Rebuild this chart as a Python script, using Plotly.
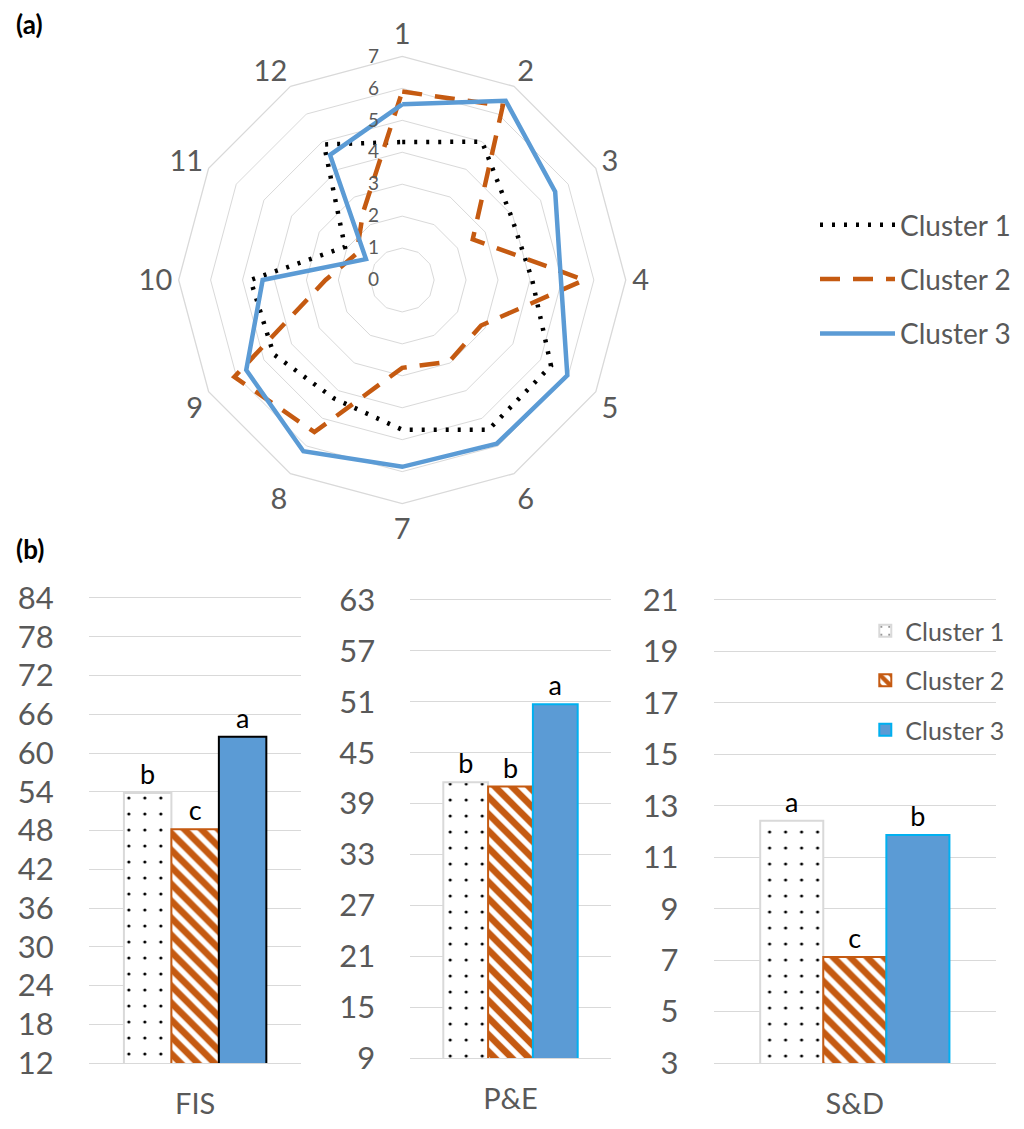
import plotly.graph_objects as go

# ---------------- data ----------------
radar_axes = ["1", "2", "3", "4", "5", "6", "7", "8", "9", "10", "11", "12"]
cluster1_radar = [4.32, 5.0, 3.95, 4.07, 5.38, 5.41, 4.69, 4.28, 4.65, 4.75, 2.07, 4.9]
cluster2_radar = [5.9, 6.3, 2.55, 5.7, 2.85, 2.95, 2.75, 5.5, 6.07, 2.4, 1.65, 2.45]
cluster3_radar = [5.5, 6.48, 5.53, 4.97, 5.97, 5.92, 5.85, 6.19, 5.64, 4.37, 1.31, 4.52]

bar_groups = ["FIS", "P&E", "S&D"]
cluster1_bar = [53.8, 41.5, 12.42]
cluster2_bar = [48.2, 41.0, 7.12]
cluster3_bar = [62.5, 50.7, 11.86]
letters1 = ["b", "b", "a"]
letters2 = ["c", "b", "c"]
letters3 = ["a", "a", "b"]

y_ranges = [(12, 84, 6), (9, 63, 6), (3, 21, 2)]

series_names = ["Cluster 1", "Cluster 2", "Cluster 3"]

# ---------------- styles ----------------
GREY = "#595959"
GRID = "#d9d9d9"
ORANGE = "#c55a11"
BLUE = "#5b9bd5"
FONT = "Lato"
W, H = 1008, 1113   # page body has an 8px margin


def px(x):
    return (x - 8) / W


def py(y):
    return 1 - (y - 8) / H


fig = go.Figure()

# ---------------- radar ----------------
def closed(v):
    return v + [v[0]]

theta = closed(radar_axes)
fig.add_trace(go.Scatterpolar(
    r=closed(cluster1_radar), theta=theta, mode="lines", name=series_names[0],
    line=dict(color="black", width=4.5, dash="3px,9px"), legend="legend", legendgroup="r1"))
fig.add_trace(go.Scatterpolar(
    r=closed(cluster2_radar), theta=theta, mode="lines", name=series_names[1],
    line=dict(color=ORANGE, width=4.5, dash="20px,13px"), legend="legend", legendgroup="r2"))
fig.add_trace(go.Scatterpolar(
    r=closed(cluster3_radar), theta=theta, mode="lines", name=series_names[2],
    line=dict(color=BLUE, width=4.5), legend="legend", legendgroup="r3"))

cx, cy, half = 403, 280, 224
fig.update_layout(
    polar=dict(
        domain=dict(x=[px(cx - half), px(cx + half)], y=[py(cy + half), py(cy - half)]),
        gridshape="linear",
        bgcolor="white",
        radialaxis=dict(range=[0, 7], dtick=1, tick0=0, showline=False, gridcolor=GRID,
                        gridwidth=1.3, angle=90, side="counterclockwise", tickangle=90,
                        ticks="outside", ticklen=16, tickcolor="rgba(0,0,0,0)",
                        tickfont=dict(size=19, color=GREY, family=FONT)),
        angularaxis=dict(rotation=90, direction="clockwise", showgrid=False,
                         showline=True, linecolor=GRID, linewidth=1.3, ticks="",
                         tickfont=dict(size=29, color=GREY, family=FONT)),
    )
)

# ---------------- bars ----------------
xaxes = ["x", "x2", "x3"]
yaxes = ["y", "y2", "y3"]
x_domains = [[px(89), px(302)], [px(411), px(612)], [px(715), px(998)]]
y_domains = [[py(1063), py(598)], [py(1058), py(600)], [py(1063), py(600)]]
c3_border = ["black", "#00b0f0", "#00b0f0"]

for i, grp in enumerate(bar_groups):
    show = (i == 2)
    fig.add_trace(go.Bar(
        x=[grp], y=[cluster1_bar[i]], name=series_names[0], xaxis=xaxes[i], yaxis=yaxes[i],
        text=[letters1[i]], textposition="outside", cliponaxis=False,
        textfont=dict(size=27, color="black", family=FONT),
        marker=dict(color="white", line=dict(color=GRID, width=2),
                    pattern=dict(shape=".", fgcolor="black", bgcolor="white", fgopacity=1,
                                 size=16, solidity=0.03)),
        showlegend=show, legend="legend2", legendgroup="b1"))
    fig.add_trace(go.Bar(
        x=[grp], y=[cluster2_bar[i]], name=series_names[1], xaxis=xaxes[i], yaxis=yaxes[i],
        text=[letters2[i]], textposition="outside", cliponaxis=False,
        textfont=dict(size=27, color="black", family=FONT),
        marker=dict(color="white", line=dict(color=ORANGE, width=2),
                    pattern=dict(shape="\\", fgcolor=ORANGE, bgcolor="white", fgopacity=1,
                                 size=12, solidity=0.55)),
        showlegend=show, legend="legend2", legendgroup="b2"))
    fig.add_trace(go.Bar(
        x=[grp], y=[cluster3_bar[i]], name=series_names[2], xaxis=xaxes[i], yaxis=yaxes[i],
        text=[letters3[i]], textposition="outside", cliponaxis=False,
        textfont=dict(size=27, color="black", family=FONT),
        marker=dict(color=BLUE, line=dict(color=c3_border[i], width=2)),
        showlegend=show, legend="legend2", legendgroup="b3"))

for i in range(3):
    lo, hi, step = y_ranges[i]
    xa = "xaxis" if i == 0 else f"xaxis{i+1}"
    ya = "yaxis" if i == 0 else f"yaxis{i+1}"
    fig.layout[xa] = dict(domain=x_domains[i], anchor=yaxes[i], showgrid=False, automargin=False,
                          showline=True, mirror=True, linecolor=GRID, linewidth=1.3,
                          ticks="", ticklabelstandoff=15,
                          tickfont=dict(size=29, color=GREY, family=FONT), fixedrange=True)
    fig.layout[ya] = dict(domain=y_domains[i], anchor=xaxes[i], range=[lo, hi], automargin=False,
                          tick0=lo, dtick=step,
                          showgrid=True, gridcolor=GRID, gridwidth=1.3, zeroline=False,
                          showline=False, ticks="", ticklabelstandoff=34,
                          tickfont=dict(size=31, color=GREY, family=FONT))

fig.update_layout(
    width=W, height=H,
    margin=dict(l=0, r=0, t=0, b=0),
    paper_bgcolor="white", plot_bgcolor="white",
    barmode="group", bargap=0.33, bargroupgap=0,
    font=dict(family=FONT, color=GREY),
    legend=dict(x=px(817), y=py(200), xanchor="left", yanchor="top", itemwidth=75,
                font=dict(size=28, color=GREY, family=FONT), tracegroupgap=15,
                traceorder="grouped", bgcolor="rgba(0,0,0,0)"),
    legend2=dict(x=px(867), y=py(608), xanchor="left", yanchor="top",
                 font=dict(size=25, color=GREY, family=FONT), tracegroupgap=14,
                 traceorder="grouped", bgcolor="rgba(0,0,0,0)"),
    annotations=[
        dict(text="<b>(a)</b>", x=px(14), y=py(24), xref="paper", yref="paper",
             xanchor="left", yanchor="middle", showarrow=False,
             font=dict(size=26, color="black", family=FONT)),
        dict(text="<b>(b)</b>", x=px(14), y=py(549), xref="paper", yref="paper",
             xanchor="left", yanchor="middle", showarrow=False,
             font=dict(size=26, color="black", family=FONT)),
    ],
)

fig.write_html("out.html")
